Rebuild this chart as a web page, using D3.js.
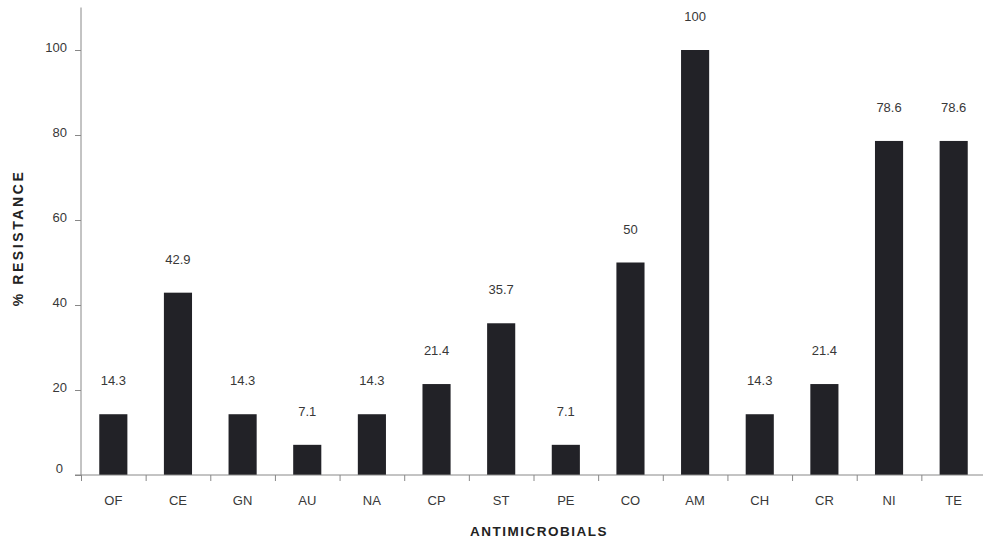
<!DOCTYPE html>
<html><head><meta charset="utf-8">
<script src="https://cdn.jsdelivr.net/npm/d3@7"></script>
<style>body{margin:0;background:#fff}text{font-family:Arial,"Liberation Sans",sans-serif}</style>
</head><body><svg id="c" width="983" height="539"></svg>
<script>
const categories = ["OF","CE","GN","AU","NA","CP","ST","PE","CO","AM","CH","CR","NI","TE"];
const values = [14.3,42.9,14.3,7.1,14.3,21.4,35.7,7.1,50,100,14.3,21.4,78.6,78.6];
const yTicks = [0,20,40,60,80,100];

const svg = d3.select("#c");
const x = d3.scaleBand().domain(categories).range([81,986]).paddingInner(0.565).paddingOuter(0.2825);
const y = d3.scaleLinear().domain([0,110]).range([475,7.5]);
const axisColor = "#888";

svg.selectAll("rect.bar").data(values).enter().append("rect")
  .attr("x",(d,i)=>x(categories[i])).attr("width",x.bandwidth())
  .attr("y",d=>y(d)).attr("height",d=>y(0)-y(d)).attr("fill","#222227");

svg.selectAll("text.val").data(values).enter().append("text")
  .attr("x",(d,i)=>x(categories[i])+x.bandwidth()/2).attr("y",d=>y(d)-29)
  .attr("text-anchor","middle").attr("font-size",13).attr("fill","#383838").text(d=>d);

const yAxis = d3.axisLeft(y).tickValues(yTicks).tickSize(6).tickPadding(8);
const gy = svg.append("g").attr("transform","translate(81,0)").call(yAxis);
gy.select(".domain").attr("d","M0,7.5V475").attr("stroke",axisColor);
gy.selectAll(".tick line").attr("stroke",axisColor);
gy.selectAll(".tick text").attr("font-size",13).attr("fill","#383838").attr("font-family","Arial,'Liberation Sans',sans-serif").attr("dy","0.1em");
gy.selectAll(".tick").filter(d=>d===0).select("text").attr("dy","-0.2em").attr("dx","-4");

const bandStep = x.step();
const gx = svg.append("g").attr("transform","translate(0,475)");
gx.append("line").attr("x1",75).attr("x2",983).attr("y1",0).attr("y2",0).attr("stroke",axisColor);
gx.selectAll("line.t").data(categories).enter().append("line")
  .attr("x1",d=>x(d)-(bandStep-x.bandwidth())/2+0.5)
  .attr("x2",d=>x(d)-(bandStep-x.bandwidth())/2+0.5)
  .attr("y1",0).attr("y2",6).attr("stroke",axisColor);
gx.selectAll("text.t").data(categories).enter().append("text")
  .attr("x",d=>x(d)+x.bandwidth()/2).attr("y",30)
  .attr("text-anchor","middle").attr("font-size",13).attr("fill","#383838").text(d=>d);

svg.append("text").attr("x",539).attr("y",536).attr("text-anchor","middle")
  .attr("font-size",13.5).attr("font-weight","bold").attr("letter-spacing","1.5").attr("fill","#222").text("ANTIMICROBIALS");
svg.append("text").attr("transform","translate(23,238) rotate(-90)").attr("text-anchor","middle")
  .attr("font-size",14).attr("font-weight","bold").attr("letter-spacing","2.6").attr("fill","#222").text("% RESISTANCE");
</script></body></html>
